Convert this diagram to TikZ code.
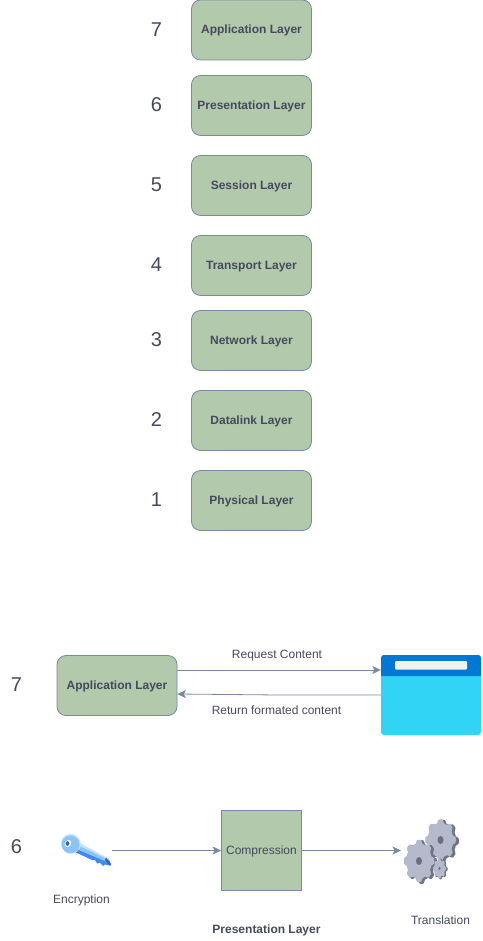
\documentclass[tikz,border=0pt]{standalone}
\usepackage{fontspec}
\setmainfont{Liberation Sans}
\usetikzlibrary{arrows.meta}
\definecolor{sagefill}{HTML}{B2C9AB}
\definecolor{sageline}{HTML}{788AA3}
\definecolor{sagetext}{HTML}{46495D}
\definecolor{winTop}{HTML}{0078D4}
\definecolor{winBody}{HTML}{32D4F5}
\definecolor{winBar}{HTML}{F2F2F2}
\definecolor{gearLight}{HTML}{B4B9CB}
\definecolor{gearDark}{HTML}{6F7382}
\definecolor{gearHole}{HTML}{6A6E7E}
\definecolor{keyLight}{HTML}{8CC4F8}
\definecolor{keyPale}{HTML}{C8E4FC}
\definecolor{keyBlue}{HTML}{3E8BEA}
\definecolor{keyDark}{HTML}{2F5FC8}
\tikzset{
  layerbox/.style={draw=sageline,fill=sagefill,rounded corners=9pt,line width=0.8pt,minimum width=120pt,minimum height=60pt,inner sep=0pt,text=sagetext,font=\fontsize{12}{14}\selectfont\bfseries},
  numlabel/.style={text=sagetext,font=\fontsize{20}{22}\selectfont,inner sep=0pt},
  caption/.style={text=sagetext,font=\fontsize{12}{14}\selectfont,inner sep=0pt},
  boldcaption/.style={text=sagetext,font=\fontsize{12}{14}\selectfont\bfseries,inner sep=0pt},
  link/.style={draw=sageline,line width=0.8pt,-{Stealth[inset=2pt,length=8.5pt,width=8pt]}},
}
\newcommand{\lowered}[1]{\raisebox{0pt}[8pt][0pt]{#1}}
\newcommand{\gearshape}[5]{% cx cy rx ry color
  \fill[#5] plot[domain=0:360,samples=145,smooth] ({#1+#3*(1+0.09*max(-1,min(1,1.8*cos(8*\x))))*cos(\x)},{#2+#4*(1+0.09*max(-1,min(1,1.8*cos(8*\x))))*sin(\x)}) -- cycle;
}
\begin{document}
\begin{tikzpicture}[x=1pt,y=-1pt]
\useasboundingbox (0,0) rectangle (482,941);
% layer stack
\node[layerbox] (l7) at (251.5,30) {\lowered{Application Layer}};
\node[layerbox] (l6) at (251.5,105.5) {\lowered{Presentation Layer}};
\node[layerbox] (l5) at (251.5,185.5) {\lowered{Session Layer}};
\node[layerbox] (l4) at (251.5,265.5) {\lowered{Transport Layer}};
\node[layerbox] (l3) at (251.5,340.5) {\lowered{Network Layer}};
\node[layerbox] (l2) at (251.5,420.5) {\lowered{Datalink Layer}};
\node[layerbox] (l1) at (251.5,500.5) {\lowered{Physical Layer}};
\node[numlabel] (n7) at (156.5,29.5) {7};
\node[numlabel] (n6) at (156.5,104.5) {6};
\node[numlabel] (n5) at (156.5,184.5) {5};
\node[numlabel] (n4) at (156.5,264.5) {4};
\node[numlabel] (n3) at (156.5,339.5) {3};
\node[numlabel] (n2) at (156.5,419.5) {2};
\node[numlabel] (n1) at (156.5,499.5) {1};
% application detail
\node[numlabel] (d7) at (16.5,684.5) {7};
\node[layerbox] (app) at (117,685.5) {\lowered{Application Layer}};
\node[fill=winBody,rounded corners=3pt,minimum width=100pt,minimum height=80pt,inner sep=0pt] (win) at (431,695) {};
\fill[winTop] (381,676) {[rounded corners=3pt] -- (381,655) -- (481,655)} -- (481,676) -- cycle;
\fill[winBar,rounded corners=1pt] (395,661) rectangle (467,669.5);
\coordinate (reqA) at ([yshift=15.5pt]app.east);
\coordinate (reqB) at (win.west |- reqA);
\coordinate (retA) at ([yshift=-8.5pt]app.east);
\draw[link] (reqA) -- (reqB);
\draw[link] (win.west) -- (279,695) -- (retA);
\node[caption] (req) at (277,655.5) {Request Content};
\node[caption] (ret) at (276.5,710.5) {Return formated content};
% presentation detail
\node[numlabel] (d6) at (16.5,846.5) {6};
\node[draw=sageline,fill=sagefill,line width=0.8pt,minimum width=80pt,minimum height=80pt,inner sep=0pt,text=sagetext,font=\fontsize{12}{14}\selectfont] (comp) at (261.5,850.5) {\lowered{Compression}};
\coordinate (keyEnd) at (111.5,850.5);
\coordinate (gearEnd) at (401,850.5);
\draw[link] (keyEnd) -- (comp.west);
\draw[link] (comp.east) -- (gearEnd);
\node[caption] (enc) at (81.5,900.5) {Encryption};
\node[caption] (tra) at (440.5,920) {Translation};
\node[boldcaption] (pres) at (266.5,930.5) {Presentation Layer};
% key icon
\fill[keyBlue] (76,843) -- (110,861) -- (110,865.5) -- (105,864.5) -- (103,866) -- (100,862.5) -- (97,863.5) -- (95,860) -- (92,860) -- (74,851.5) -- cycle;
\fill[keyLight] (76,841.5) -- (109,859.5) -- (107,862) -- (74,848) -- cycle;
\fill[keyPale] (79,842.5) -- (108,858) -- (108,859.5) -- (78,845) -- cycle;
\fill[keyDark] (106,857.5) -- (111,864) -- (110,866) -- (105,860) -- cycle;
\fill[keyPale,rotate around={-35:(71,843.5)}] (71,843.5) ellipse (10pt and 9.5pt);
\fill[keyLight,rotate around={-35:(70.5,844.5)}] (70.5,844.5) ellipse (9pt and 9pt);
\fill[white,rotate around={-35:(68,843.5)}] (68,843.5) ellipse (3pt and 3.8pt);
\fill[keyDark] (67.5,843.5) ellipse (1.8pt and 2.3pt);
% gear icon
\gearshape{443}{841}{14.5}{19.5}{gearDark}
\gearshape{440.5}{840}{14}{19}{gearLight}
\fill[gearHole] (440.5,840) ellipse (3pt and 4pt);
\gearshape{421.5}{862}{14.5}{20}{gearDark}
\gearshape{419}{861}{14}{19.5}{gearLight}
\fill[gearHole] (419,861) ellipse (3pt and 4pt);
\gearshape{440.5}{869}{6.5}{9.5}{gearDark}
\gearshape{439.5}{868.5}{6}{9}{gearLight}
\fill[gearHole] (439.5,868.5) ellipse (1.2pt and 1.6pt);
\end{tikzpicture}
\end{document}
